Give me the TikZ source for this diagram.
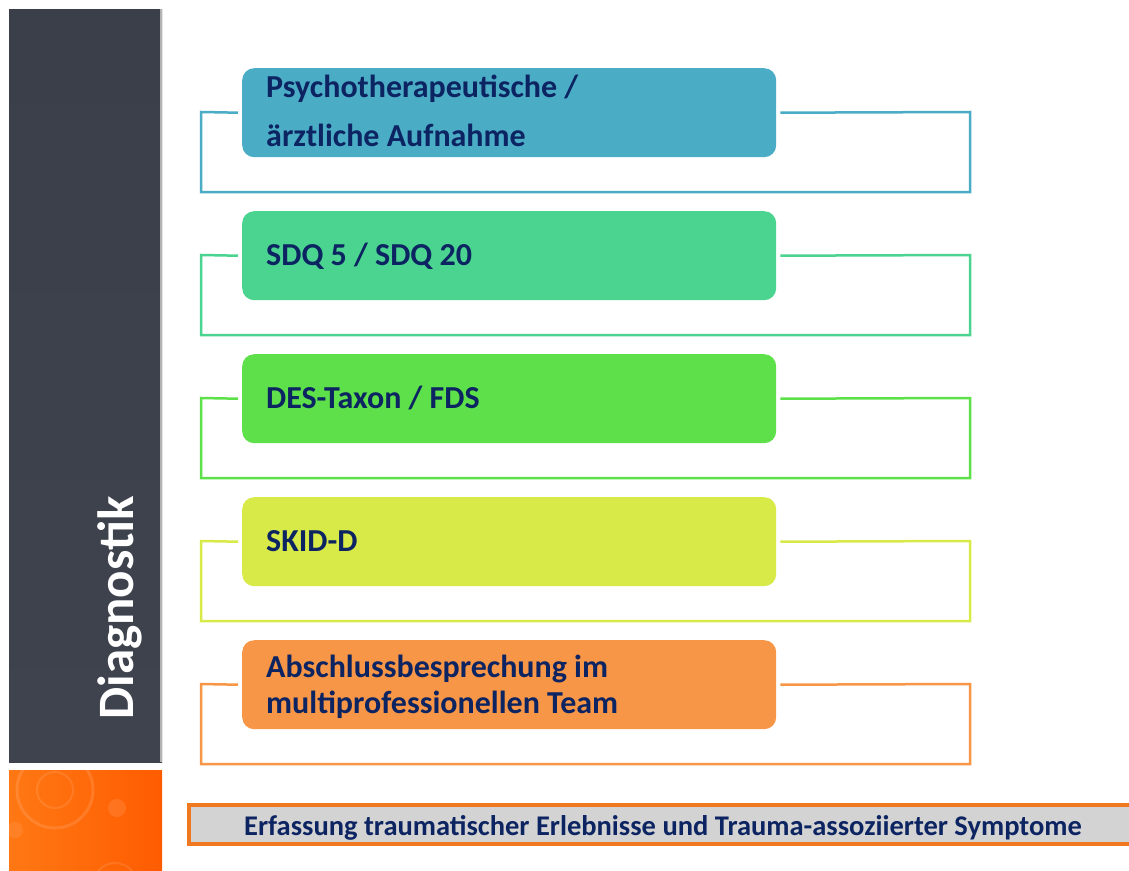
\documentclass[tikz,border=0pt]{standalone}
\usepackage{fontspec}
\setmainfont{Carlito}
\definecolor{navy}{RGB}{12,36,97}
\definecolor{barA}{RGB}{58,63,74}
\definecolor{barB}{RGB}{62,67,78}
\definecolor{orA}{RGB}{255,120,20}
\definecolor{orB}{RGB}{255,92,0}
\definecolor{cA}{RGB}{75,172,198}
\definecolor{cB}{RGB}{75,212,143}
\definecolor{cC}{RGB}{94,224,74}
\definecolor{cD}{RGB}{215,234,72}
\definecolor{cE}{RGB}{247,150,70}
\definecolor{bannerfill}{RGB}{211,211,211}
\definecolor{bannerline}{RGB}{240,120,32}
\tikzset{
  stepbox/.style={rounded corners=12pt, inner sep=0pt, minimum width=534pt, minimum height=89pt, anchor=north west},
  frameline/.style={line width=2.5pt},
  lbl/.style={font=\bfseries\fontsize{32}{36}\selectfont, text=navy, anchor=base west, inner sep=0pt},
}
\begin{document}
\begin{tikzpicture}[x=1pt,y=-1pt]
\useasboundingbox (0,0) rectangle (1129,870);
% side bar
\shade[top color=barA, bottom color=barB] (9,9) rectangle (162,762);
\draw[line width=1.5pt, gray!60] (161,9) -- (161,762);
\node[rotate=90, anchor=base, text=white, font=\bfseries\fontsize{51}{56}\selectfont, inner sep=0pt] (diag) at (133,608) {Diagnostik};
% orange block
\begin{scope}
\clip (9,770) rectangle (162,870);
\shade[left color=orA, right color=orB] (9,770) rectangle (162,870);
\draw[white, opacity=0.12, line width=3pt] (55,790) circle (38);
\draw[white, opacity=0.10, line width=2pt] (55,790) circle (18);
\fill[white, opacity=0.10] (117,808) circle (9);
\fill[white, opacity=0.08] (15,830) circle (8);
\draw[white, opacity=0.10, line width=2pt] (115,885) circle (22);
\end{scope}
% boxes
\foreach \i/\c in {0/cA,1/cB,2/cC,3/cD,4/cE}{
  \pgfmathsetmacro{\yy}{68+143*\i}
  \coordinate (fl\i) at (201,\yy+44);
  \coordinate (fr\i) at (970,\yy+44);
  \coordinate (bl\i) at (201,\yy+124);
  \coordinate (br\i) at (970,\yy+124);
  \node[stepbox, fill=\c] (box\i) at (242,\yy) {};
  \draw[frameline, \c] ([xshift=-4pt]box\i.west) -- (fl\i) -- (bl\i) -- (br\i) -- (fr\i) -- ([xshift=4pt]box\i.east);
}
\node[lbl] (t0a) at (266,97) {Psychotherapeutische /};
\node[lbl] (t0b) at (266,146) {ärztliche Aufnahme};
\node[lbl] (t1) at (266,265) {SDQ 5 / SDQ 20};
\node[lbl] (t2) at (266,408) {DES-Taxon / FDS};
\node[lbl] (t3) at (266,551) {SKID-D};
\node[lbl] (t4a) at (266,677) {Abschlussbesprechung im};
\node[lbl] (t4b) at (266,713) {multiprofessionellen Team};
% banner
\draw[fill=bannerfill, draw=bannerline, line width=3.5pt] (189,805) rectangle (1135,844);
\node[font=\bfseries\fontsize{28.5}{32}\selectfont, text=navy, inner sep=0pt, anchor=base] (banner) at (663,835) {Erfassung traumatischer Erlebnisse und Trauma-assoziierter Symptome};
\end{tikzpicture}
\end{document}
